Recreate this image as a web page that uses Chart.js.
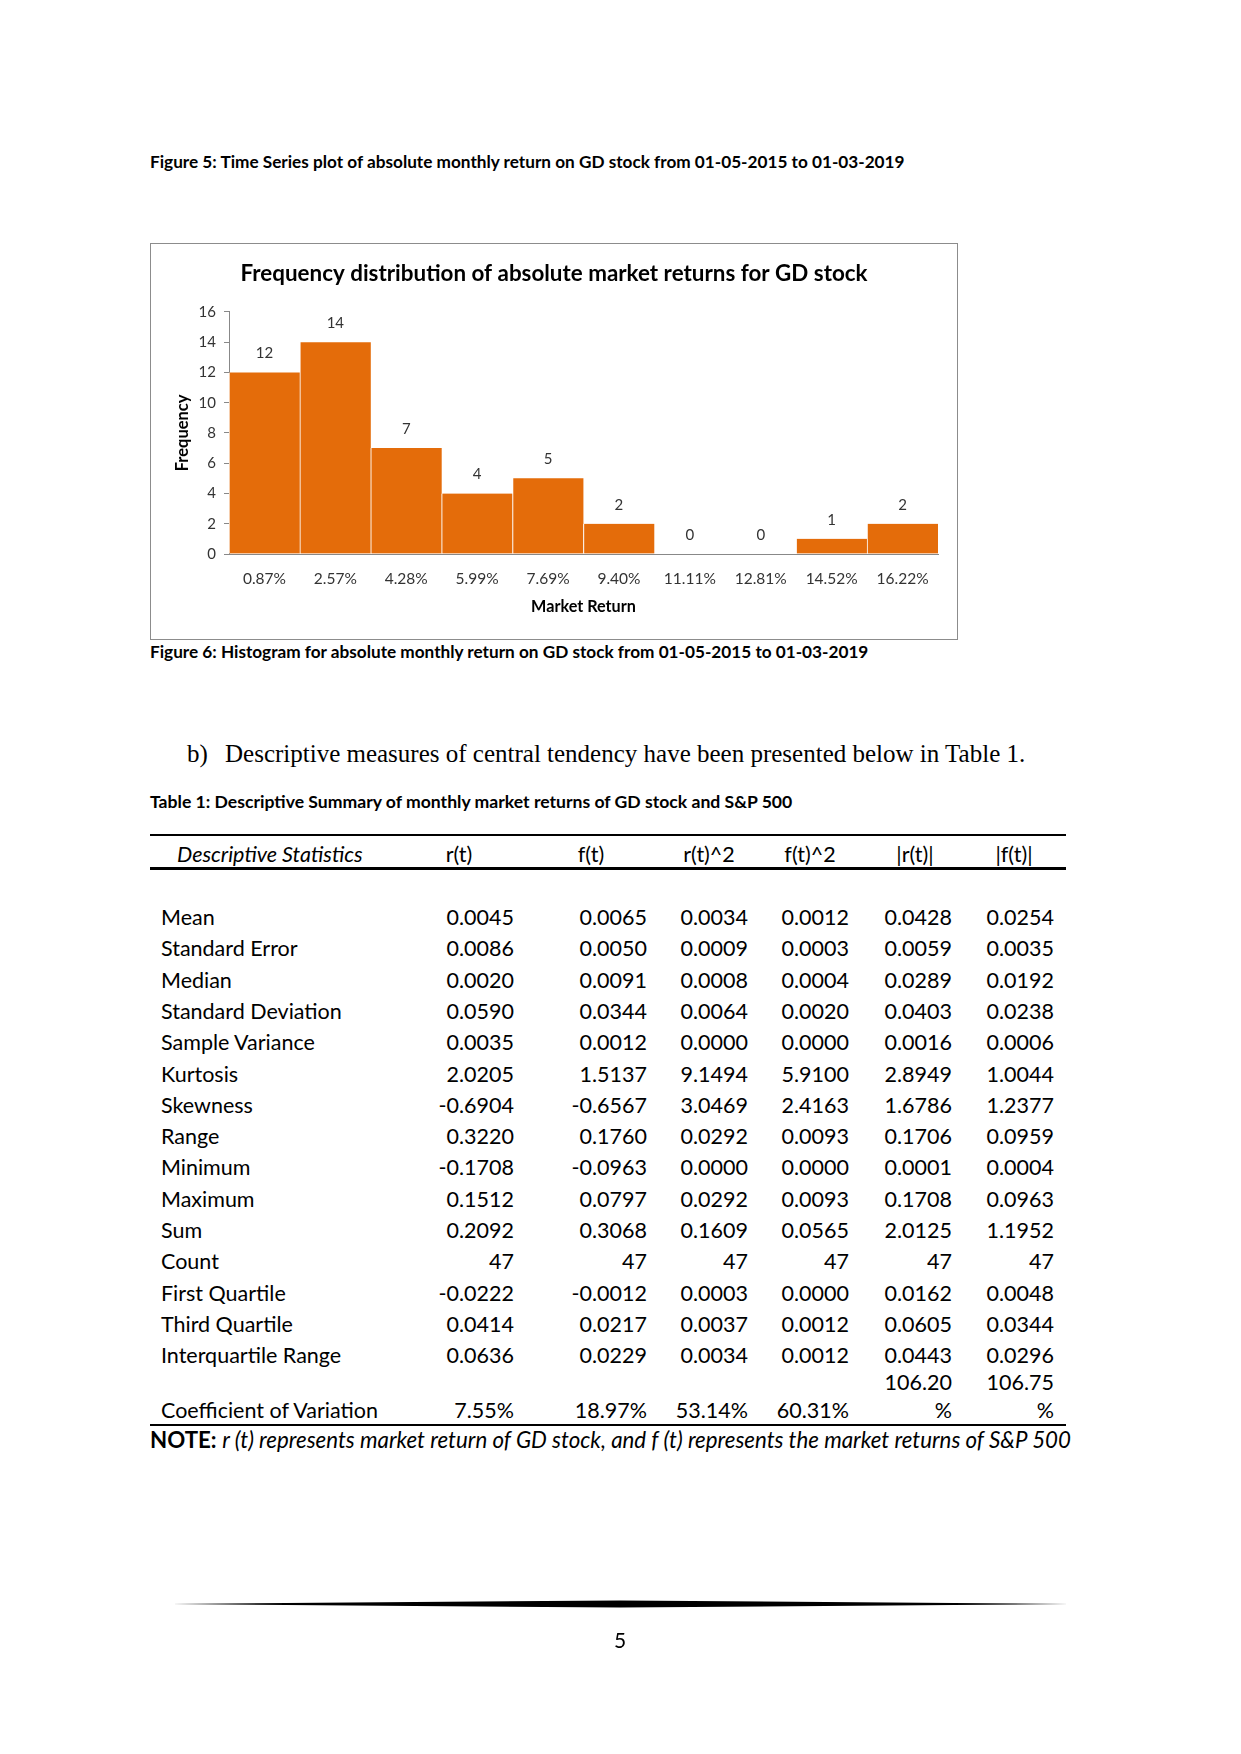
<!DOCTYPE html>
<html>
<head>
<meta charset="utf-8">
<script src="https://cdn.jsdelivr.net/npm/chart.js@4.4.1/dist/chart.umd.min.js"></script>
<style>
  body { margin: 0; background: #fff; }
  #page { position: relative; width: 1241px; height: 1754px; font-family: Lato, "Open Sans", sans-serif; color: #000; overflow: hidden; }
  .t { position: absolute; white-space: nowrap; line-height: 1; transform: translateY(-50%); }
  .cap { font-weight: bold; font-size: 17.2px; left: 150px; }
  .cell { font-size: 21.5px; }
  .num { width: 140px; text-align: right; }
  .hd { width: 120px; text-align: center; }
  .rule { position: absolute; background: #000; }
  #chartBox { position: absolute; left: 150px; top: 243px; width: 806px; height: 395px; border: 1px solid #8c8c8c; }
</style>
</head>
<body>
<div id="page">
  <div class="t cap" style="top:162px">Figure 5: Time Series plot of absolute monthly return on GD stock from 01-05-2015 to 01-03-2019</div>

  <div id="chartBox"><canvas id="hist" width="806" height="395"></canvas></div>

  <div class="t cap" style="top:652px">Figure 6: Histogram for absolute monthly return on GD stock from 01-05-2015 to 01-03-2019</div>

  <div class="t" style="top:753px;left:187px;font-family:'Liberation Serif',serif;font-size:25px">b)</div>
  <div class="t" style="top:753px;left:225px;font-family:'Liberation Serif',serif;font-size:25px">Descriptive measures of central tendency have been presented below in Table 1.</div>

  <div class="t cap" style="top:802px;font-size:17.6px">Table 1: Descriptive Summary of monthly market returns of GD stock and S&amp;P 500</div>

  <div class="rule" style="left:150px;top:834px;width:916px;height:1.5px"></div>
  <div class="rule" style="left:150px;top:867px;width:916px;height:2.5px"></div>
  <div class="rule" style="left:150px;top:1424px;width:916px;height:1.5px"></div>

  <div id="table"></div>

  <div class="t" style="top:1440px;left:150px;font-size:22.3px"><b>NOTE:</b> <i>r (t) represents market return of GD stock, and f (t) represents the market returns of S&amp;P 500</i></div>

  <svg style="position:absolute;left:0;top:0" width="1241" height="1754">
    <polygon points="171,1604 620,1600.5 1069,1604 620,1607.5" fill="#000"/>
  </svg>
  <div class="t" style="top:1639px;left:614px;font-size:21px">5</div>
</div>

<script>
// histogram data
const bins = ['0.87%', '2.57%', '4.28%', '5.99%', '7.69%', '9.40%', '11.11%', '12.81%', '14.52%', '16.22%'];
const counts = [12, 14, 7, 4, 5, 2, 0, 0, 1, 2];

// table data
const headers = ['r(t)', 'f(t)', 'r(t)^2', 'f(t)^2', '|r(t)|', '|f(t)|'];
const statNames = ['Mean', 'Standard Error', 'Median', 'Standard Deviation', 'Sample Variance', 'Kurtosis', 'Skewness', 'Range', 'Minimum', 'Maximum', 'Sum', 'Count', 'First Quartile', 'Third Quartile', 'Interquartile Range'];
const rt = ['0.0045', '0.0086', '0.0020', '0.0590', '0.0035', '2.0205', '-0.6904', '0.3220', '-0.1708', '0.1512', '0.2092', '47', '-0.0222', '0.0414', '0.0636'];
const ft = ['0.0065', '0.0050', '0.0091', '0.0344', '0.0012', '1.5137', '-0.6567', '0.1760', '-0.0963', '0.0797', '0.3068', '47', '-0.0012', '0.0217', '0.0229'];
const rt2 = ['0.0034', '0.0009', '0.0008', '0.0064', '0.0000', '9.1494', '3.0469', '0.0292', '0.0000', '0.0292', '0.1609', '47', '0.0003', '0.0037', '0.0034'];
const ft2 = ['0.0012', '0.0003', '0.0004', '0.0020', '0.0000', '5.9100', '2.4163', '0.0093', '0.0000', '0.0093', '0.0565', '47', '0.0000', '0.0012', '0.0012'];
const absR = ['0.0428', '0.0059', '0.0289', '0.0403', '0.0016', '2.8949', '1.6786', '0.1706', '0.0001', '0.1708', '2.0125', '47', '0.0162', '0.0605', '0.0443'];
const absF = ['0.0254', '0.0035', '0.0192', '0.0238', '0.0006', '1.0044', '1.2377', '0.0959', '0.0004', '0.0963', '1.1952', '47', '0.0048', '0.0344', '0.0296'];
const covValues = ['7.55%', '18.97%', '53.14%', '60.31%', '106.20%', '106.75%'];

// build the table
const colRight = [514, 647, 748, 849, 952, 1054];
const colCenter = [459, 591, 709, 810, 915, 1014];
const columns = [rt, ft, rt2, ft2, absR, absF];
const table = document.getElementById('table');

function addText(text, x, y, cls, extra) {
  const d = document.createElement('div');
  d.className = 't cell ' + (cls || '');
  d.textContent = text;
  d.style.left = x + 'px';
  d.style.top = y + 'px';
  if (extra) d.style.cssText += extra;
  table.appendChild(d);
}

addText('Descriptive Statistics', 177, 855, '', 'font-style:italic');
headers.forEach((h, i) => addText(h, colCenter[i] - 60, 855, 'hd'));

statNames.forEach((name, r) => {
  const y = 918 + r * 31.3;
  addText(name, 161, y);
  columns.forEach((col, c) => addText(col[r], colRight[c] - 140, y, 'num'));
});

// coefficient of variation row, the last two cells wrap onto two lines
addText('Coefficient of Variation', 161, 1411);
covValues.forEach((v, c) => {
  if (c < 4) {
    addText(v, colRight[c] - 140, 1411, 'num');
  } else {
    addText(v.replace('%', ''), colRight[c] - 140, 1383, 'num');
    addText('%', colRight[c] - 140, 1411, 'num');
  }
});

// labels above each bar
const barLabels = {
  id: 'barLabels',
  afterDatasetsDraw(chart) {
    const ctx = chart.ctx;
    const meta = chart.getDatasetMeta(0);
    ctx.save();
    ctx.font = '15px Lato';
    ctx.fillStyle = '#333';
    ctx.textAlign = 'center';
    ctx.textBaseline = 'middle';
    meta.data.forEach((bar, i) => {
      ctx.fillText(counts[i], bar.x, bar.y - 19);
    });
    ctx.restore();
  }
};

new Chart(document.getElementById('hist'), {
  type: 'bar',
  data: {
    labels: bins,
    datasets: [{
      data: counts,
      backgroundColor: '#E46C0A',
      borderColor: '#ffffff',
      borderWidth: { left: 1, right: 0, top: 0, bottom: 0 },
      categoryPercentage: 1,
      barPercentage: 1
    }]
  },
  options: {
    responsive: false,
    animation: false,
    layout: { padding: { left: 19, right: 19, top: 0, bottom: 0 } },
    plugins: {
      legend: { display: false },
      tooltip: { enabled: false },
      title: {
        display: true,
        text: 'Frequency distribution of absolute market returns for GD stock',
        color: '#000',
        font: { family: 'Lato', size: 22.4, weight: 'bold' },
        padding: { top: 16, bottom: 25 }
      }
    },
    scales: {
      x: {
        grid: { display: false, drawTicks: false },
        border: { display: true, color: '#888' },
        ticks: { color: '#333', font: { family: 'Lato', size: 15.5 }, padding: 16 },
        title: {
          display: true,
          text: 'Market Return',
          color: '#000',
          font: { family: 'Lato', size: 16.2, weight: 'bold' },
          padding: { top: 0, bottom: 23 }
        },
        afterFit(scale) { scale.height = 85; }
      },
      y: {
        min: 0,
        max: 16,
        grid: { drawOnChartArea: false, drawTicks: true, tickLength: 5, color: '#888' },
        border: { display: true, color: '#888' },
        ticks: { stepSize: 2, color: '#333', font: { family: 'Lato', size: 15 }, padding: 8 },
        title: {
          display: true,
          text: 'Frequency',
          color: '#000',
          font: { family: 'Lato', size: 16.5, weight: 'bold' },
          padding: { top: 3, bottom: 0 }
        },
        afterFit(scale) { scale.width = 59; }
      }
    }
  },
  plugins: [barLabels]
});
</script>
</body>
</html>
